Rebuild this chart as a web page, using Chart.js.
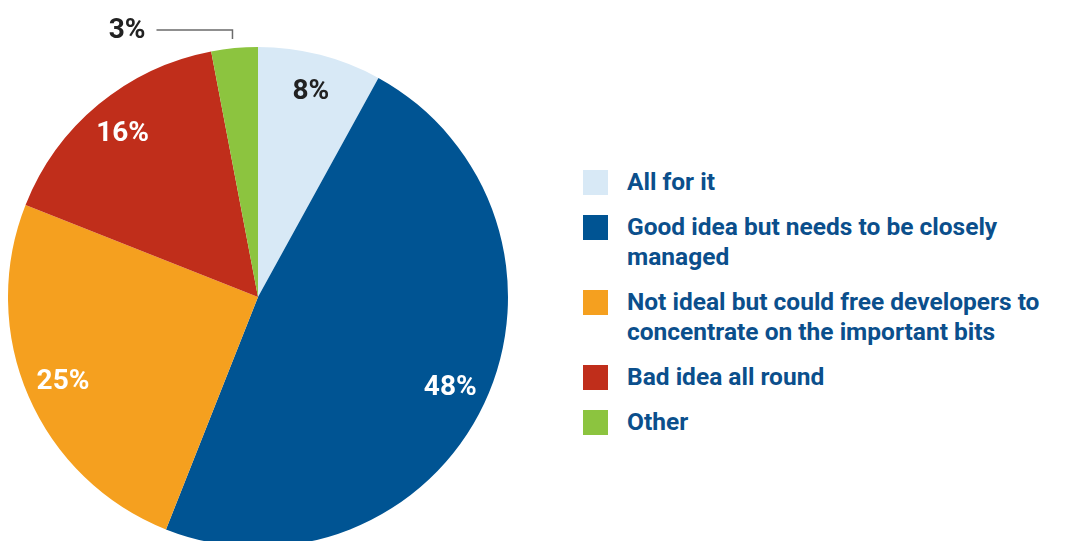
<!DOCTYPE html>
<html>
<head>
<meta charset="utf-8">
<script src="https://cdn.jsdelivr.net/npm/chart.js@4.4.1/dist/chart.umd.min.js"></script>
<style>
  html, body { margin: 0; padding: 0; background: #fff; overflow: hidden; }
  body { width: 1068px; height: 541px; position: relative; }
  #pieWrap { position: absolute; left: 0; top: 0; width: 520px; height: 600px; }
  #legend { position: absolute; left: 583px; top: 167px; width: 485px; font-family: Roboto, sans-serif; font-weight: bold; font-size: 24.5px; color: #0b4f8c; }
  .item { display: flex; align-items: flex-start; margin-bottom: 15px; line-height: 30px; }
  .swatch { width: 25px; height: 25px; flex: none; margin-top: 3px; margin-right: 19px; }
</style>
</head>
<body>
<div id="pieWrap"><canvas id="pieChart" width="520" height="600"></canvas></div>
<div id="legend"></div>
<script>
// survey answers, clockwise from 12 o'clock
var categories = [
	'All for it',
	'Good idea but needs to be closely managed',
	'Not ideal but could free developers to concentrate on the important bits',
	'Bad idea all round',
	'Other'
];
var shares = [8, 48, 25, 16, 3];
var colors = ['#d8e9f6', '#005493', '#f5a01f', '#c02e1b', '#8cc43f'];
var labelColors = ['#222222', '#ffffff', '#ffffff', '#ffffff', '#222222'];

// legend: wrapped labels, so built as html
var legendEl = document.getElementById('legend');
var breaks = {1: ['Good idea but needs to be closely', 'managed'], 2: ['Not ideal but could free developers to', 'concentrate on the important bits']};
categories.forEach(function(cat, i) {
	var row = document.createElement('div');
	row.className = 'item';
	var sw = document.createElement('div');
	sw.className = 'swatch';
	sw.style.background = colors[i];
	var txt = document.createElement('div');
	txt.style.whiteSpace = 'nowrap';
	txt.innerHTML = breaks[i] ? breaks[i].join('<br>') : cat;
	row.appendChild(sw);
	row.appendChild(txt);
	legendEl.appendChild(row);
});

// percentage labels on the slices, small slices get a leader line outside
var pctLabels = {
	id: 'pctLabels',
	afterDatasetsDraw: function(chart) {
		var ctx = chart.ctx;
		var arcs = chart.getDatasetMeta(0).data;
		ctx.save();
		ctx.font = 'bold 28px Roboto, sans-serif';
		ctx.textBaseline = 'middle';
		arcs.forEach(function(arc, i) {
			var p = arc.getProps(['x', 'y', 'startAngle', 'endAngle', 'outerRadius']);
			var mid = (p.startAngle + p.endAngle) / 2;
			var text = shares[i] + '%';
			ctx.fillStyle = labelColors[i];
			if (shares[i] < 5) {
				var ex = p.x + Math.cos(mid) * p.outerRadius - 2;
				var ey = p.y + Math.sin(mid) * p.outerRadius - 9;
				var ly = ey - 9;
				ctx.strokeStyle = '#6b6b6b';
				ctx.lineWidth = 1.5;
				ctx.beginPath();
				ctx.moveTo(ex, ey);
				ctx.lineTo(ex, ly);
				ctx.lineTo(ex - 76, ly);
				ctx.stroke();
				ctx.textAlign = 'right';
				ctx.fillText(text, ex - 87, ly + 1);
			} else {
				var r = p.outerRadius * 0.85;
				ctx.textAlign = 'center';
				ctx.fillText(text, p.x + Math.cos(mid) * r, p.y + Math.sin(mid) * r + 1);
			}
		});
		ctx.restore();
	}
};

new Chart(document.getElementById('pieChart'), {
	type: 'pie',
	data: {
		labels: categories,
		datasets: [{
			data: shares,
			backgroundColor: colors,
			borderWidth: 0
		}]
	},
	options: {
		responsive: false,
		animation: false,
		layout: { padding: { left: 8, top: 47, right: 12, bottom: 53 } },
		plugins: {
			legend: { display: false },
			tooltip: { enabled: false }
		}
	},
	plugins: [pctLabels]
});
</script>
</body>
</html>
